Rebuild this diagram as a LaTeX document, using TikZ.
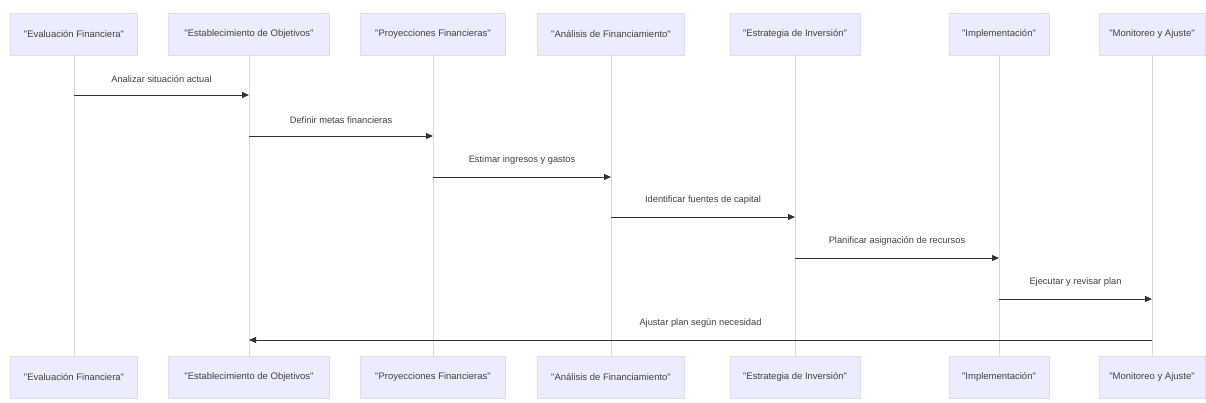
\documentclass[tikz,border=0pt]{standalone}
\usepackage{fontspec}
\usepackage{tikz}
\newfontfamily\diagfont{Liberation Sans}
\definecolor{actorfill}{HTML}{ECECFF}
\definecolor{actorline}{HTML}{DCDCF4}
\definecolor{lifeline}{HTML}{D8D8D8}
\definecolor{msgline}{HTML}{333333}
\tikzset{
  actor_font/.style = {font=\diagfont\fontsize{9.5}{11}\selectfont},
  msg_font/.style = {font=\diagfont\fontsize{9.3}{11}\selectfont}
}
\tikzset{
  actor/.style = {actor_font, draw=actorline, fill=actorfill, minimum height=42, inner xsep=8, align=center, text=black!75},
  msg/.style = {msg_font, text=black!75, anchor=south, inner sep=2},
  life/.style = {draw=lifeline, line width=0.8},
  call/.style = {draw=msgline, line width=1, -{Triangle[length=7,width=6]}}
}
\usetikzlibrary{arrows.meta, positioning, calc}

\begin{document}
\begin{tikzpicture}[x=1pt, y=-1pt]
        \useasboundingbox (0,0) rectangle (1206,402);

        % Actors (top)
        \node[actor, minimum width=127] at (74,34) (ev) {"Evaluación Financiera"};
        \node[actor, minimum width=161] at (249,34) (eo) {"Establecimiento de Objetivos"};
        \node[actor, minimum width=145] at (433,34) (pf) {"Proyecciones Financieras"};
        \node[actor, minimum width=147] at (611,34) (af) {"Análisis de Financiamiento"};
        \node[actor, minimum width=130] at (795,34) (ei) {"Estrategia de Inversión"};
        \node[actor, minimum width=100] at (999,34) (im) {"Implementación"};
        \node[actor, minimum width=106] at (1152,34) (ma) {"Monitoreo y Ajuste"};

        % Actors (bottom)
        \node[actor, minimum width=127] at (74,377) (ev_b) {"Evaluación Financiera"};
        \node[actor, minimum width=161] at (249,377) (eo_b) {"Establecimiento de Objetivos"};
        \node[actor, minimum width=145] at (433,377) (pf_b) {"Proyecciones Financieras"};
        \node[actor, minimum width=147] at (611,377) (af_b) {"Análisis de Financiamiento"};
        \node[actor, minimum width=130] at (795,377) (ei_b) {"Estrategia de Inversión"};
        \node[actor, minimum width=100] at (999,377) (im_b) {"Implementación"};
        \node[actor, minimum width=106] at (1152,377) (ma_b) {"Monitoreo y Ajuste"};

        % Lifelines
        \draw[life] (ev) -- (ev_b);
        \draw[life] (eo) -- (eo_b);
        \draw[life] (pf) -- (pf_b);
        \draw[life] (af) -- (af_b);
        \draw[life] (ei) -- (ei_b);
        \draw[life] (im) -- (im_b);
        \draw[life] (ma) -- (ma_b);

        % Messages
        \coordinate (m1a) at (ev.center |- 0,95);   \coordinate (m1b) at (eo.center |- 0,95);
        \coordinate (m2a) at (eo.center |- 0,136);  \coordinate (m2b) at (pf.center |- 0,136);
        \coordinate (m3a) at (pf.center |- 0,177);  \coordinate (m3b) at (af.center |- 0,177);
        \coordinate (m4a) at (af.center |- 0,217);  \coordinate (m4b) at (ei.center |- 0,217);
        \coordinate (m5a) at (ei.center |- 0,258);  \coordinate (m5b) at (im.center |- 0,258);
        \coordinate (m6a) at (im.center |- 0,299);  \coordinate (m6b) at (ma.center |- 0,299);
        \coordinate (m7a) at (ma.center |- 0,340);  \coordinate (m7b) at (eo.center |- 0,340);

        \draw[call] (m1a) -- (m1b);
        \draw[call] (m2a) -- (m2b);
        \draw[call] (m3a) -- (m3b);
        \draw[call] (m4a) -- (m4b);
        \draw[call] (m5a) -- (m5b);
        \draw[call] (m6a) -- (m6b);
        \draw[call] (m7a) -- (m7b);

        \node[msg] at ($(m1a)!0.5!(m1b)+(0,-10)$) (l1) {Analizar situación actual};
        \node[msg] at ($(m2a)!0.5!(m2b)+(0,-10)$) (l2) {Definir metas financieras};
        \node[msg] at ($(m3a)!0.5!(m3b)+(0,-10)$) (l3) {Estimar ingresos y gastos};
        \node[msg] at ($(m4a)!0.5!(m4b)+(0,-10)$) (l4) {Identificar fuentes de capital};
        \node[msg] at ($(m5a)!0.5!(m5b)+(0,-10)$) (l5) {Planificar asignación de recursos};
        \node[msg] at ($(m6a)!0.5!(m6b)+(0,-10)$) (l6) {Ejecutar y revisar plan};
        \node[msg] at ($(m7a)!0.5!(m7b)+(0,-10)$) (l7) {Ajustar plan según necesidad};
\end{tikzpicture}
\end{document}
